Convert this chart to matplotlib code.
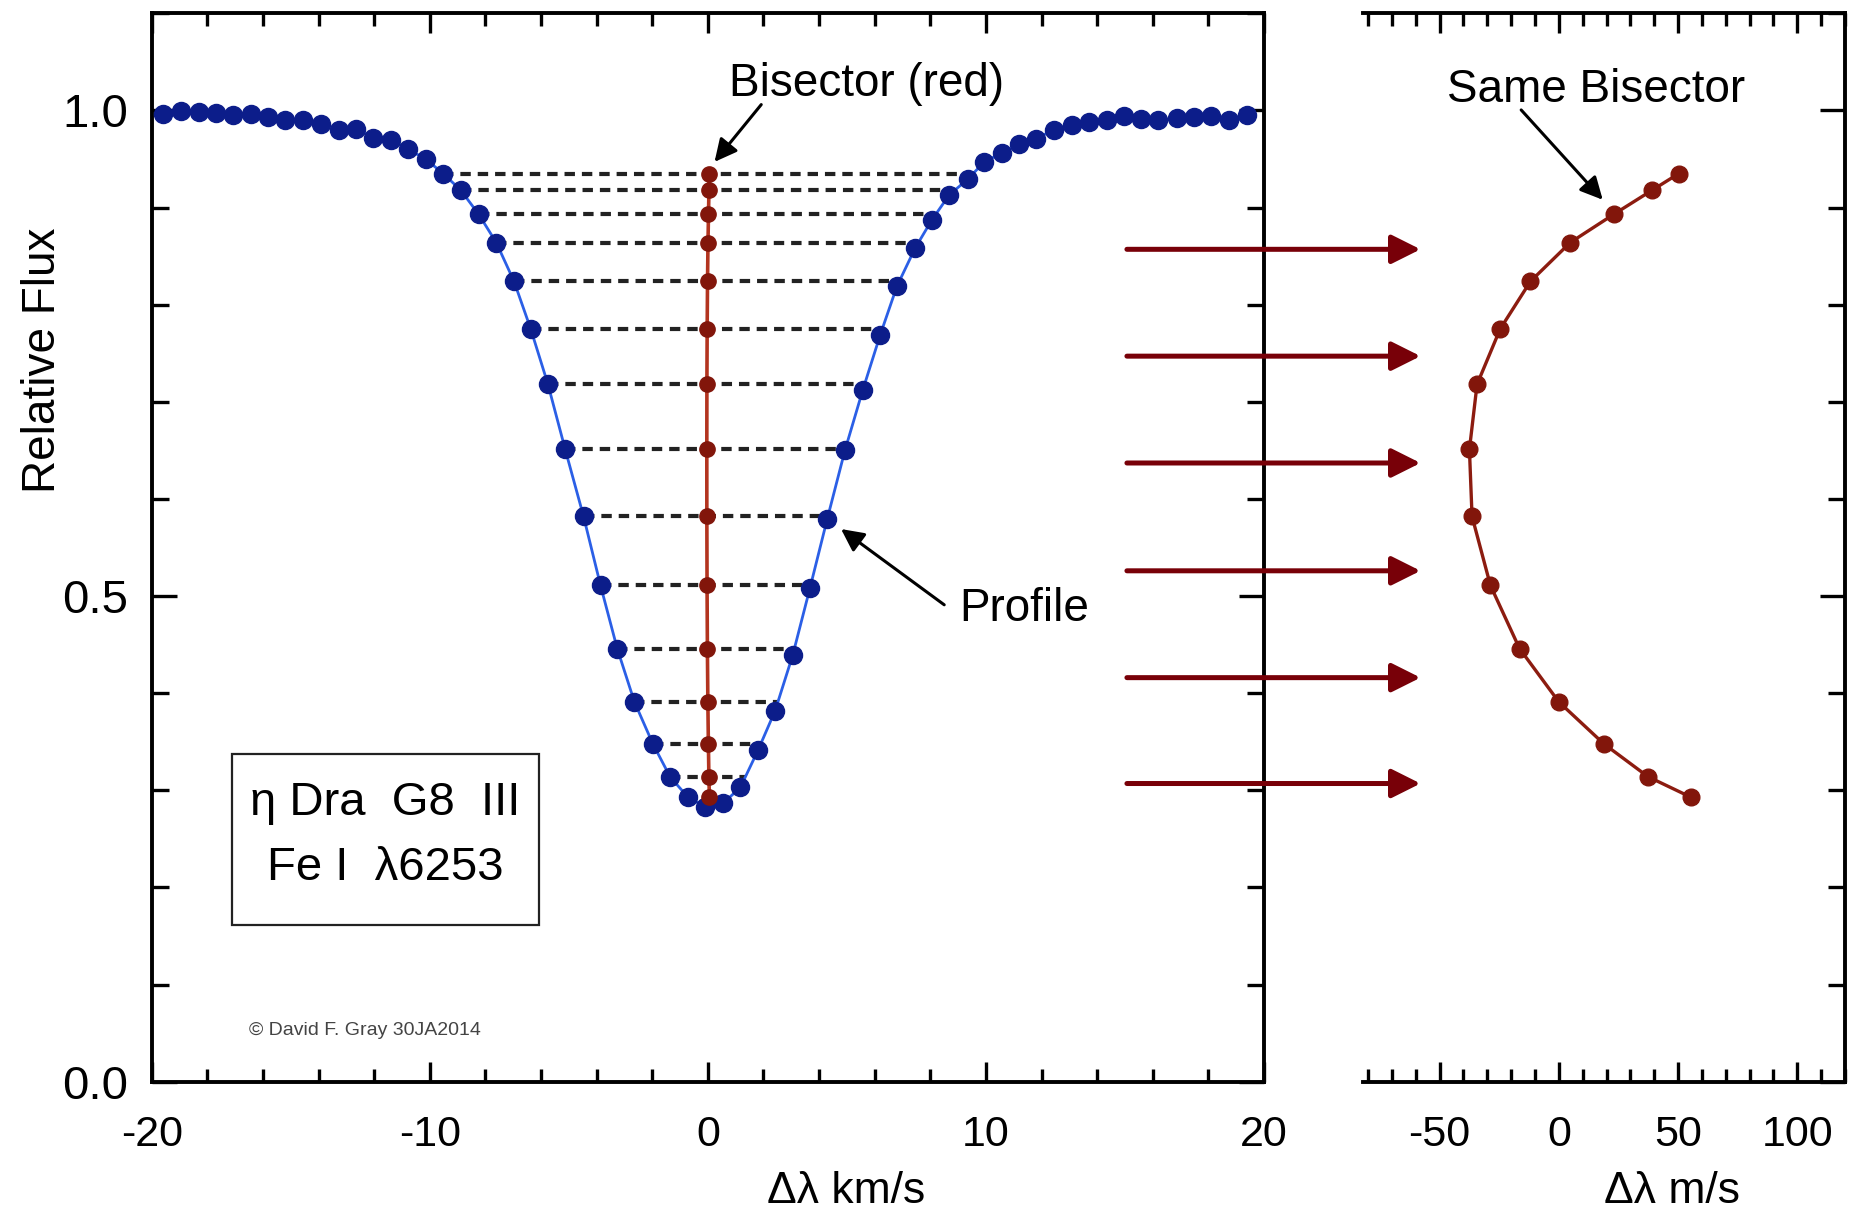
import numpy as np
import matplotlib
matplotlib.use("Agg")
import matplotlib.pyplot as plt
from matplotlib.patches import Rectangle
from matplotlib.ticker import MultipleLocator, NullFormatter

plt.rcParams['font.family'] = ['Liberation Sans', 'DejaVu Sans']
plt.rcParams['lines.scale_dashes'] = False
plt.rcParams['axes.unicode_minus'] = False

# Fe I 6253 line profile of eta Dra: velocity (km/s) and relative flux
profile_v = [-19.58, -18.93, -18.30, -17.70, -17.07, -16.43, -15.81, -15.19, -14.55, -13.92,
             -13.27, -12.67, -12.04, -11.40, -10.78, -10.15, -9.52, -8.89, -8.24, -7.61,
             -6.97, -6.37, -5.75, -5.13, -4.47, -3.86,
             -3.26, -2.64, -1.98, -1.36, -0.72, -0.10, 0.56, 1.17, 1.80, 2.42, 3.05,
             3.67, 4.29, 4.93, 5.57, 6.20, 6.80, 7.45, 8.05, 8.68, 9.34,
             9.94, 10.56, 11.20, 11.80, 12.45, 13.08, 13.71, 14.35, 14.97, 15.59,
             16.19, 16.86, 17.49, 18.11, 18.74, 19.38]
profile_flux = [0.996, 0.999, 0.998, 0.997, 0.995, 0.996, 0.993, 0.990, 0.990, 0.986,
                0.980, 0.981, 0.972, 0.970, 0.960, 0.950, 0.935, 0.918, 0.893, 0.864,
                0.824, 0.775, 0.718, 0.651, 0.582, 0.511,
                0.446, 0.391, 0.348, 0.314, 0.293, 0.283, 0.287, 0.303, 0.341, 0.382, 0.439,
                0.508, 0.579, 0.650, 0.712, 0.769, 0.819, 0.858, 0.887, 0.913, 0.929,
                0.947, 0.956, 0.965, 0.971, 0.980, 0.985, 0.988, 0.990, 0.994, 0.991,
                0.990, 0.992, 0.993, 0.994, 0.990, 0.995]

# bisector: flux level and velocity of the midpoint (m/s)
bisector_flux = [0.935, 0.918, 0.893, 0.864, 0.824, 0.775, 0.718, 0.651,
                 0.582, 0.511, 0.446, 0.391, 0.348, 0.314, 0.293]
bisector_ms = [50.3, 39.2, 23.0, 4.8, -11.9, -24.6, -34.3, -37.5,
               -36.4, -28.7, -16.5, 0.0, 18.8, 37.4, 55.3]

# flux levels of the arrows linking the two panels
link_flux = [0.857, 0.747, 0.637, 0.526, 0.416, 0.307]

BLUE_LINE = '#2b5fe6'
BLUE_DOT = '#0c1d8a'
RED_LINE = '#b3341f'
RED_DOT = '#82160b'
ARROW_RED = '#780008'
FS = 33
TFS = 31


def wing_crossing(level, v, f):
    # walk outward from the core until the flux rises through level
    for i in range(1, len(v)):
        if f[i] >= level:
            t = (level - f[i - 1]) / (f[i] - f[i - 1])
            return v[i - 1] + t * (v[i] - v[i - 1])
    return v[-1]


def pointer(ax, tail, head):
    ax.annotate('', xy=head, xytext=tail,
                arrowprops=dict(arrowstyle='-|>', color='black', lw=2.2,
                                mutation_scale=34, shrinkA=0, shrinkB=0))


v = np.array(profile_v)
f = np.array(profile_flux)
core = int(np.argmin(f))

fig = plt.figure(figsize=(18.53, 12.14), dpi=100)
ax1 = fig.add_axes([0.08187, 0.10898, 0.60027, 0.88007])
ax2 = fig.add_axes([0.73573, 0.10898, 0.25996, 0.88007])

# dashed chords across the line at each bisector level
for lev in bisector_flux[:-1]:
    xl = wing_crossing(lev, v[core::-1], f[core::-1])
    xr = wing_crossing(lev, v[core:], f[core:])
    ax1.plot([xl, xr], [lev, lev], color='#222222', lw=3.0,
             dashes=(7.5, 5.0), zorder=2)

ax1.plot(v, f, '-o', color=BLUE_LINE, lw=2.0, ms=13,
         mfc=BLUE_DOT, mec=BLUE_DOT, zorder=3)
ax1.plot(np.array(bisector_ms) / 1000.0, bisector_flux, '-o', color=RED_LINE, lw=2.6,
         ms=11, mfc=RED_DOT, mec=RED_DOT, zorder=4)

ax1.set_xlim(-20, 20)
ax1.set_ylim(0, 1.1)
ax1.set_xticks([-20, -10, 0, 10, 20])
ax1.xaxis.set_minor_locator(MultipleLocator(2))
ax1.set_yticks([0.0, 0.5, 1.0])
ax1.set_yticklabels(['0.0', '0.5', '1.0'])
ax1.yaxis.set_minor_locator(MultipleLocator(0.1))
ax1.tick_params(which='both', direction='in', top=True, right=True, width=2.4,
                labelsize=TFS)
ax1.tick_params(axis='x', which='major', length=14.5, pad=24)
ax1.tick_params(axis='x', which='minor', length=9.5)
ax1.tick_params(axis='y', which='major', length=18, pad=17, labelsize=34)
ax1.tick_params(axis='y', which='minor', length=12)
for s in ax1.spines.values():
    s.set_linewidth(2.8)

ax1.set_xlabel('Δλ km/s', fontsize=32)
ax1.xaxis.set_label_coords(0.624, -0.084)
ax1.set_ylabel('Relative Flux', fontsize=FS)
ax1.yaxis.set_label_coords(-0.078, 0.675)

# star / line box
ax1.add_patch(Rectangle((-17.11, 0.161), 11.04, 0.176, fill=False,
                        lw=1.6, edgecolor='#222222', zorder=5))
ax1.text(-11.6, 0.287, 'η Dra  G8  III', fontsize=34, ha='center', va='center')
ax1.text(-11.6, 0.220, 'Fe I  λ6253', fontsize=34, ha='center', va='center')
ax1.text(-16.5, 0.053, '© David F. Gray 30JA2014', fontsize=14,
         color='#444444', ha='left', va='center')

ax1.text(5.69, 1.027, 'Bisector (red)', fontsize=FS, ha='center', va='center')
pointer(ax1, (1.92, 1.006), (0.24, 0.947))
ax1.text(11.37, 0.487, 'Profile', fontsize=FS, ha='center', va='center')
pointer(ax1, (8.50, 0.491), (4.79, 0.569))

# right panel: the same bisector in m/s
ax2.plot(bisector_ms, bisector_flux, '-o', color='#8c1c10', lw=2.4, ms=12,
         mfc=RED_DOT, mec=RED_DOT, zorder=3)
ax2.set_xlim(-82, 120)
ax2.set_ylim(0, 1.1)
ax2.set_xticks([-50, 0, 50, 100])
ax2.xaxis.set_minor_locator(MultipleLocator(10))
ax2.set_yticks([0.0, 0.5, 1.0])
ax2.yaxis.set_minor_locator(MultipleLocator(0.1))
ax2.yaxis.set_major_formatter(NullFormatter())
ax2.spines['left'].set_visible(False)
for s in ['top', 'bottom', 'right']:
    ax2.spines[s].set_linewidth(2.8)
ax2.tick_params(which='both', direction='in', top=True, right=True, left=False,
                labelleft=False, width=2.4, labelsize=TFS)
ax2.tick_params(axis='x', which='major', length=14.5, pad=24)
ax2.tick_params(axis='x', which='minor', length=9.5)
ax2.tick_params(axis='y', which='major', length=18)
ax2.tick_params(axis='y', which='minor', length=12)
ax2.set_xlabel('Δλ m/s', fontsize=32)
ax2.xaxis.set_label_coords(0.641, -0.084)

ax2.text(15.7, 1.021, 'Same Bisector', fontsize=FS, ha='center', va='center')
pointer(ax2, (-15.8, 1.0005), (18.4, 0.908))

# arrows carrying the levels from the profile to the bisector panel
for lev in link_flux:
    ax2.annotate('', xy=(-58.0, lev), xycoords='data',
                 xytext=(15.07, lev), textcoords=ax1.transData,
                 arrowprops=dict(arrowstyle='-|>', color=ARROW_RED, lw=3.6,
                                 mutation_scale=44, shrinkA=0, shrinkB=0),
                 annotation_clip=False)

fig.savefig('out.png', dpi=100)
